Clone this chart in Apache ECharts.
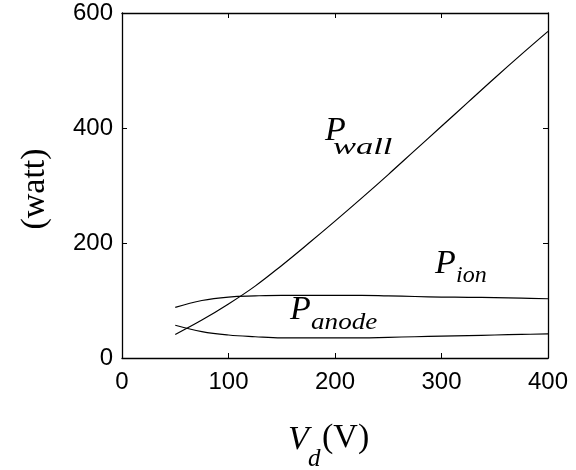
<!DOCTYPE html>
<html>
<head>
<meta charset="utf-8">
<script src="https://cdn.jsdelivr.net/npm/echarts@6/dist/echarts.min.js"></script>
<style>html,body{margin:0;padding:0;background:#fff}#c{width:576px;height:470px}</style>
</head>
<body>
<div id="c"></div>
<script>
const vd = [50, 75, 100, 125, 150, 175, 200, 225, 250, 275, 300, 325, 350, 375, 400];
const pWall  = [41, 66, 94, 125, 161, 199, 238, 278, 319, 361, 403, 445, 487, 528, 568];
const pIon   = [88, 100, 106, 108, 109, 109, 109, 109, 108, 107, 106, 105.5, 105, 104, 103];
const pAnode = [57, 46, 40, 37, 35, 35, 35, 35, 36, 37, 38, 39, 40, 41, 42];
const xTicks = [0, 100, 200, 300, 400];
const yTicks = [0, 200, 400, 600];

const serif = '"Liberation Serif", "DejaVu Serif", serif';
const sans = '"Liberation Sans", Arial, sans-serif';
const pair = (ys) => vd.map((x, i) => [x, ys[i]]);
const lineStyle = { color: '#000', width: 1.2 };
const mk = (name, ys) => ({
  name, type: 'line', data: pair(ys), smooth: 0.4, showSymbol: false,
  lineStyle, silent: true, xAxisIndex: 0, yAxisIndex: 0
});

const chart = echarts.init(document.getElementById('c'), null, { renderer: 'canvas' });
const axisBase = {
  type: 'value', splitLine: { show: false },
  axisLine: { show: true, onZero: false, lineStyle: { color: '#000', width: 1.3 } },
  axisTick: { show: true, inside: true, length: 5, lineStyle: { color: '#000', width: 1 } }
};
chart.setOption({
  animation: false,
  grid: { left: 122, right: 28, top: 13, bottom: 112, containLabel: false },
  xAxis: [
    Object.assign({}, axisBase, {
      position: 'bottom', min: xTicks[0], max: xTicks[xTicks.length - 1], interval: 100,
      axisLabel: { color: '#000', fontFamily: sans, fontSize: 24, margin: 12 }
    }),
    Object.assign({}, axisBase, {
      position: 'top', min: xTicks[0], max: xTicks[xTicks.length - 1], interval: 100,
      axisLabel: { show: false }
    })
  ],
  yAxis: [
    Object.assign({}, axisBase, {
      position: 'left', min: yTicks[0], max: yTicks[yTicks.length - 1], interval: 200,
      axisLabel: { color: '#000', fontFamily: sans, fontSize: 24, margin: 9 }
    }),
    Object.assign({}, axisBase, {
      position: 'right', min: yTicks[0], max: yTicks[yTicks.length - 1], interval: 200,
      axisLabel: { show: false }
    })
  ],
  series: [mk('P_wall', pWall), mk('P_ion', pIon), mk('P_anode', pAnode)],
  graphic: [
    // P_wall
    { type: 'text', left: 325, top: 131 - 17, style: { text: 'P', font: 'italic 34px ' + serif, fill: '#000' } },
    { type: 'text', x: 333, y: 136, scaleX: 1.5, style: { text: 'wall', font: 'italic 23px ' + serif, fill: '#000' } },
    // P_ion
    { type: 'text', left: 435, top: 264 - 17, style: { text: 'P', font: 'italic 34px ' + serif, fill: '#000' } },
    { type: 'text', left: 456, top: 264, style: { text: 'ion', font: 'italic 24px ' + serif, fill: '#000' } },
    // P_anode
    { type: 'text', left: 290, top: 310 - 17, style: { text: 'P', font: 'italic 34px ' + serif, fill: '#000' } },
    { type: 'text', x: 311, y: 311, scaleX: 1.18, style: { text: 'anode', font: 'italic 23px ' + serif, fill: '#000' } },
    // x-axis name V_d(V)
    { type: 'text', left: 288, top: 440 - 17, style: { text: 'V', font: 'italic 34px ' + serif, fill: '#000' } },
    { type: 'text', left: 308, top: 447, style: { text: 'd', font: 'italic 25px ' + serif, fill: '#000' } },
    { type: 'text', left: 322, top: 440 - 19, style: { text: '(V)', font: '34px ' + serif, fill: '#000' } },
    // y-axis name (watt)
    { type: 'text', x: 35, y: 189, rotation: Math.PI / 2,
      style: { text: '(watt)', font: '34px ' + serif, fill: '#000', align: 'center', verticalAlign: 'middle' } }
  ]
});
</script>
</body>
</html>
